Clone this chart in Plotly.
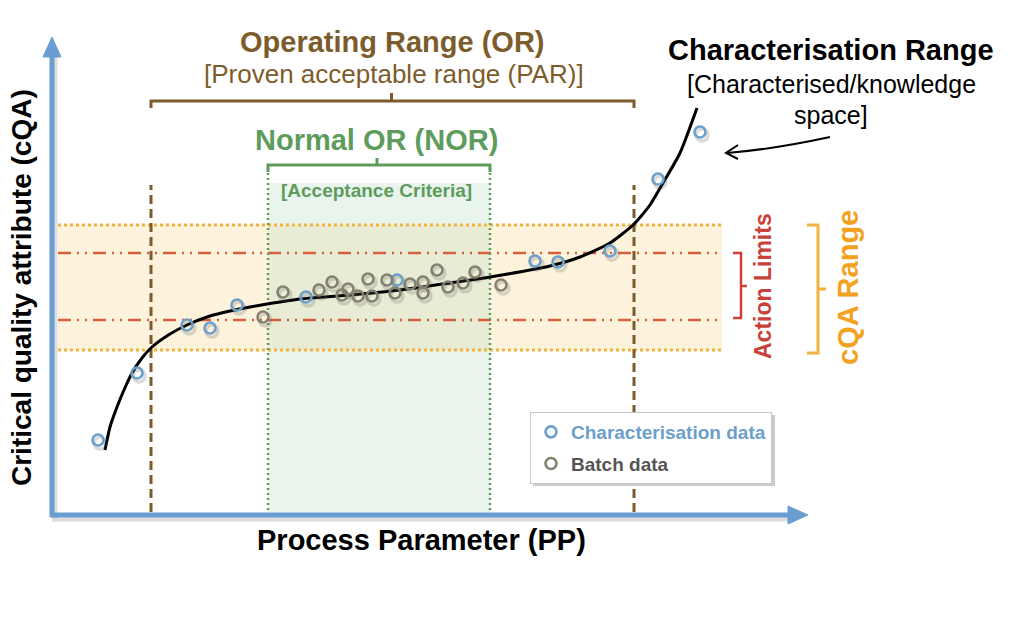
import plotly.graph_objects as go

# ---------------- data (PP / cQA units) ----------------
curve_x = [53, 58, 65, 72, 80, 90, 100, 118, 135, 158, 178, 198, 215, 248, 298, 348, 398, 438, 498, 528, 558, 581, 598, 611, 628, 645]
curve_y = [65, 88, 108, 125, 142, 157, 168, 181, 190, 199, 204, 208, 211, 216, 220, 225, 232, 238, 249, 258, 272, 290, 310, 332, 362, 407]

char_x = [46, 85, 135, 158, 185, 254, 345, 483, 506, 558, 606, 648]
char_y = [75, 142, 190, 187, 210, 218, 235, 254, 253, 264, 336, 383]

batch_x = [211, 231, 267, 280, 290, 296, 306, 316, 320, 335, 343, 358, 371, 371, 385, 396, 411, 423, 449]
batch_y = [198, 223, 225, 233, 220, 226, 219, 236, 219, 235, 222, 231, 233, 222, 245, 228, 232, 243, 230]

or_limits = [99, 582]          # Operating range (PAR)
nor_limits = [216, 438]        # Normal operating range
action_limits = [195, 262]     # cQA action limits
cqa_range = [165, 290]         # cQA range
band_x = [6, 670]

# ---------------- styles ----------------
AXIS_BLUE = "#6a9ed3"
BROWN = "#7d5c2c"
GREEN = "#5d9c5d"
RED = "#d65f3e"
RED_TXT = "#c9423a"
ORANGE = "#f2b33d"
ORANGE_TXT = "#f3a21f"
CHAR_BLUE = "#6c9fcc"
BATCH_GREY = "#85816f"
FONT = "Liberation Sans"

fig = go.Figure()

# fitted curve
fig.add_trace(go.Scatter(x=curve_x, y=curve_y, mode="lines", line=dict(color="black", width=3, shape="spline", smoothing=0.6),
                         showlegend=False, hoverinfo="skip"))

# marker shadows
fig.add_trace(go.Scatter(x=[v + 2 for v in char_x + batch_x], y=[v - 3 for v in char_y + batch_y], mode="markers",
                         marker=dict(symbol="circle-open", size=12, color="rgba(90,90,90,0.22)", line=dict(width=3.5)),
                         showlegend=False, hoverinfo="skip"))

fig.add_trace(go.Scatter(x=char_x, y=char_y, mode="markers", legendgroup="c",
                         name=f"<span style='color:{CHAR_BLUE}'><b>Characterisation data</b></span>",
                         marker=dict(symbol="circle-open", size=11, color=CHAR_BLUE, line=dict(width=2.6))))
fig.add_trace(go.Scatter(x=batch_x, y=batch_y, mode="markers", legendgroup="b",
                         name="<span style='color:#555555'><b>Batch data</b></span>",
                         marker=dict(symbol="circle-open", size=11, color=BATCH_GREY, line=dict(width=2.6))))

shapes = []
# cQA band
shapes.append(dict(type="rect", x0=band_x[0], x1=band_x[1], y0=cqa_range[0], y1=cqa_range[1],
                   fillcolor="#fdf3dc", line=dict(width=0), layer="below"))
# NOR fill
shapes.append(dict(type="rect", x0=nor_limits[0], x1=nor_limits[1], y0=0, y1=332,
                   fillcolor="rgba(190,222,198,0.34)", line=dict(width=0), layer="below"))
# cQA range dotted lines
for yv in cqa_range:
    shapes.append(dict(type="line", x0=band_x[0], x1=band_x[1], y0=yv, y1=yv,
                       line=dict(color=ORANGE, width=3, dash="3px,3px"), layer="below"))
# action limit dash-dot lines
for yv in action_limits:
    shapes.append(dict(type="line", x0=band_x[0], x1=band_x[1], y0=yv, y1=yv,
                       line=dict(color=RED, width=2.5, dash="13px,6px,2px,6px,2px,6px"), layer="below"))
# OR dashed verticals
for xv in or_limits:
    shapes.append(dict(type="line", x0=xv, x1=xv, y0=3, y1=330,
                       line=dict(color=BROWN, width=3, dash="9px,5px"), layer="below"))
# NOR dotted verticals
for xv in nor_limits:
    shapes.append(dict(type="line", x0=xv, x1=xv, y0=0, y1=348,
                       line=dict(color=GREEN, width=2.5, dash="2px,3px"), layer="below"))

# OR bracket
orc = (or_limits[0] + or_limits[1]) / 2
shapes.append(dict(type="path", path=f"M {or_limits[0]},407 L {or_limits[0]},414 L {or_limits[1]},414 L {or_limits[1]},407",
                   line=dict(color=BROWN, width=3)))
shapes.append(dict(type="line", x0=orc - 1, x1=orc - 1, y0=414, y1=422, line=dict(color=BROWN, width=3)))
# NOR bracket
norc = (nor_limits[0] + nor_limits[1]) / 2
shapes.append(dict(type="path", path=f"M {nor_limits[0]},343 L {nor_limits[0]},350 L {nor_limits[1]},350 L {nor_limits[1]},343",
                   line=dict(color=GREEN, width=3)))
shapes.append(dict(type="line", x0=norc - 2, x1=norc - 2, y0=350, y1=357, line=dict(color=GREEN, width=3)))
# Action limits bracket
shapes.append(dict(type="path", path=f"M 681,{action_limits[1]} L 689,{action_limits[1]} L 689,{action_limits[0] + 2} L 681,{action_limits[0] + 2}",
                   line=dict(color=RED_TXT, width=2.5)))
shapes.append(dict(type="line", x0=689, x1=695, y0=229, y1=229, line=dict(color=RED_TXT, width=2.5)))
# cQA range bracket
shapes.append(dict(type="path", path=f"M 755,{cqa_range[1]} L 766,{cqa_range[1]} L 766,{cqa_range[0] - 3} L 755,{cqa_range[0] - 3}",
                   line=dict(color=ORANGE, width=3)))
shapes.append(dict(type="line", x0=766, x1=774, y0=226, y1=226, line=dict(color=ORANGE, width=3)))

# curved pointer arrow
shapes.append(dict(type="path", path="M 778,378 Q 723,366 675,362", line=dict(color="black", width=2)))
shapes.append(dict(type="path", path="M 686,370 L 674,362 L 686,356", line=dict(color="black", width=2)))

# legend drop shadow
shapes.append(dict(type="rect", x0=481, x1=723, y0=29, y1=100, fillcolor="rgba(140,140,140,0.45)", line=dict(width=0)))

# axes shadows
shapes.append(dict(type="line", x0=3, x1=3, y0=-3, y1=458, line=dict(color="rgba(120,120,120,0.25)", width=5)))
shapes.append(dict(type="line", x0=0, x1=738, y0=-4, y1=-4, line=dict(color="rgba(120,120,120,0.25)", width=5)))
# axes arrows
shapes.append(dict(type="line", x0=0, x1=0, y0=-2, y1=462, line=dict(color=AXIS_BLUE, width=5)))
shapes.append(dict(type="line", x0=-2, x1=740, y0=0, y1=0, line=dict(color=AXIS_BLUE, width=5)))
shapes.append(dict(type="path", path="M -9,458 L 0,478 L 9,458 Z", fillcolor=AXIS_BLUE, line=dict(color=AXIS_BLUE, width=1)))
shapes.append(dict(type="path", path="M 736,-9 L 756,0 L 736,9 Z", fillcolor=AXIS_BLUE, line=dict(color=AXIS_BLUE, width=1)))

annotations = []


def txt(x, y, text, size, color, bold=False, angle=0):
    annotations.append(dict(x=x, y=y, xref="x", yref="y", text=f"<b>{text}</b>" if bold else text,
                            showarrow=False, textangle=angle, xanchor="center", yanchor="middle",
                            font=dict(family=FONT, size=size, color=color)))


txt(340, 473, "Operating Range (OR)", 29, BROWN, bold=True)
txt(342, 441, "[Proven acceptable range (PAR)]", 26, BROWN)
txt(324, 375, "Normal OR (NOR)", 29, GREEN, bold=True)
txt(324, 325, "[Acceptance Criteria]", 19, GREEN, bold=True)
txt(779, 465, "Characterisation Range", 29, "black", bold=True)
txt(779, 431, "[Characterised/knowledge", 25, "black")
txt(779, 400, "space]", 25, "black")
txt(711, 229, "Action Limits", 23, RED_TXT, bold=True, angle=-90)
txt(796, 227, "cQA Range", 29, ORANGE_TXT, bold=True, angle=-90)
txt(-31, 227, "Critical quality attribute (cQA)", 28, "black", bold=True, angle=-90)
txt(369, -25, "Process Parameter (PP)", 29, "black", bold=True)

fig.update_layout(
    width=1024, height=624,
    margin=dict(l=0, r=0, t=0, b=0),
    paper_bgcolor="white", plot_bgcolor="white",
    xaxis=dict(range=[-52, 972], visible=False, fixedrange=True),
    yaxis=dict(range=[-109, 515], visible=False, fixedrange=True),
    shapes=shapes, annotations=annotations,
    showlegend=True,
    legend=dict(x=530 / 1024, y=1 - 412 / 624, xanchor="left", yanchor="top",
                bgcolor="white", bordercolor="#c8c8c8", borderwidth=1,
                font=dict(family=FONT, size=19), tracegroupgap=4, itemwidth=30),
)

fig.write_html("out.html")
